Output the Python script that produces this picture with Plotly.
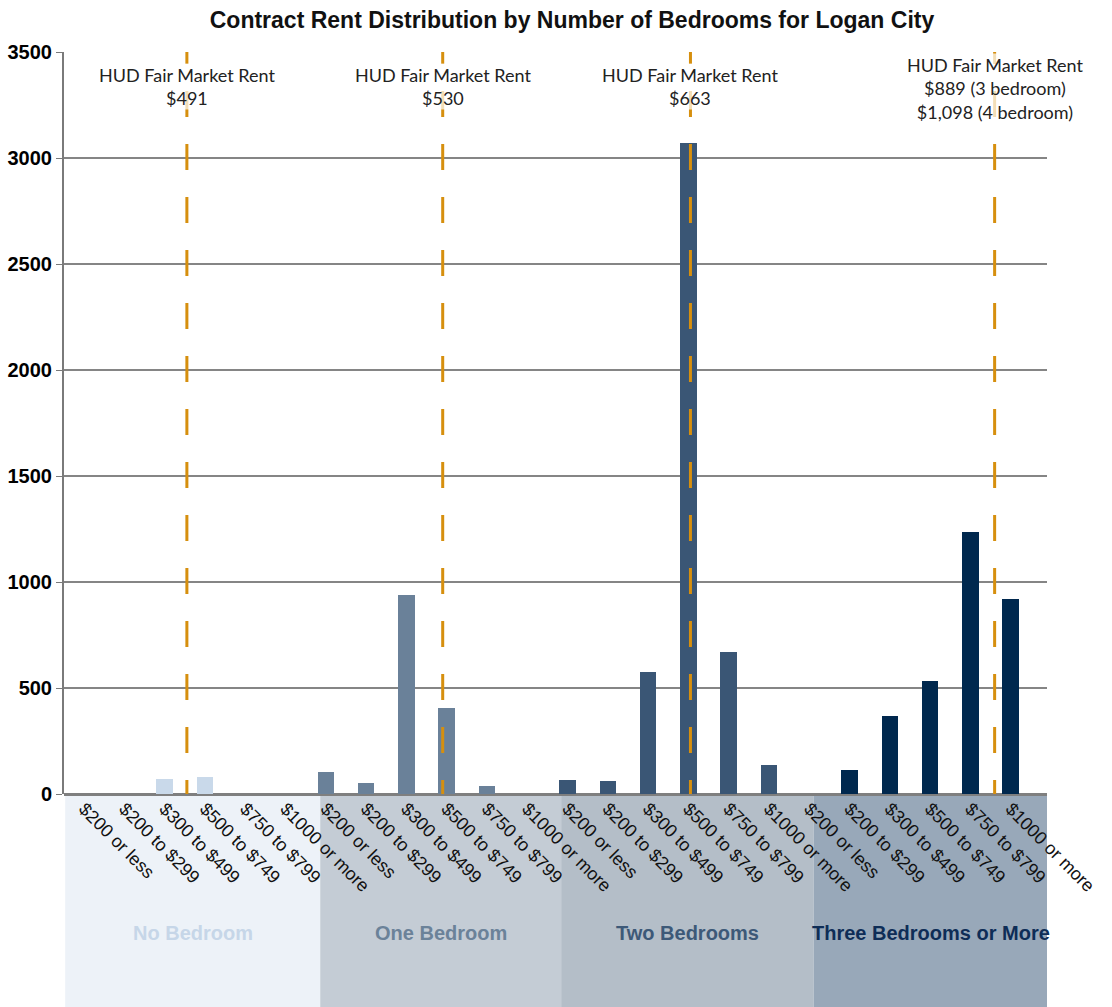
import plotly.graph_objects as go

# Rent ranges shown under every bedroom group
rent_ranges = ["$200 or less", "$200 to $299", "$300 to $499",
               "$500 to $749", "$750 to $799", "$1000 or more"]

groups = ["No Bedroom", "One Bedroom", "Two Bedrooms", "Three Bedrooms or More"]

# Renter households per rent range
no_bedroom = [0, 0, 70, 81, 0, 0]
one_bedroom = [102, 50, 938, 405, 37, 0]
two_bedrooms = [67, 61, 575, 3070, 668, 138]
three_bedrooms = [0, 113, 368, 535, 1235, 918]

# HUD fair market rent reference lines (category-axis position) and their notes
fmr_line_pos = [2.55, 8.9, 15.05, 22.6]
fmr_notes = [
    "HUD Fair Market Rent<br>$491",
    "HUD Fair Market Rent<br>$530",
    "HUD Fair Market Rent<br>$663",
    "HUD Fair Market Rent<br>$889 (3 bedroom)<br>$1,098 (4 bedroom)",
]

# Group band extents along the category axis
band_edges = [-0.47, 5.86, 11.84, 18.11, 23.92]

bar_colors = ["#C9D9EA", "#6A8199", "#3A5675", "#00284E"]
band_colors = ["#EDF2F8", "#C4CCD5", "#B4BEC8", "#98A8B9"]
label_colors = ["#C6D6E8", "#6B8299", "#3D5978", "#0E2D57"]

series = [no_bedroom, one_bedroom, two_bedrooms, three_bedrooms]
n = len(rent_ranges)

fig = go.Figure()
for g, values in enumerate(series):
    xs = [g * n + i for i in range(n)]
    fig.add_trace(go.Bar(
        x=xs, y=values, width=0.41, name=groups[g],
        marker=dict(color=bar_colors[g], line=dict(width=0)),
        showlegend=False,
    ))

tickvals = list(range(n * len(groups)))
ticktext = rent_ranges * len(groups)

# Group bands below the axis
for g in range(len(groups)):
    fig.add_shape(type="rect", xref="x", yref="paper",
                  x0=band_edges[g], x1=band_edges[g + 1], y0=0, y1=-0.29,
                  fillcolor=band_colors[g], line=dict(width=0), layer="below")
    fig.add_annotation(xref="x", yref="paper",
                       x=(band_edges[g] + band_edges[g + 1]) / 2, y=-0.187,
                       yanchor="middle",
                       text="<b>" + groups[g] + "</b>", showarrow=False,
                       font=dict(family="Liberation Sans, Arial", size=20,
                                 color=label_colors[g]))

# Fair market rent dashed lines and labels
for x, note in zip(fmr_line_pos, fmr_notes):
    fig.add_shape(type="line", xref="x", yref="y", x0=x, x1=x, y0=3566, y1=0,
                  line=dict(color="#D68F0E", width=3, dash="26px,27px"),
                  layer="above")
    top = 0.985 if note.count("<br>") == 1 else 0.998
    fig.add_annotation(xref="x", yref="paper", x=x, y=top, yanchor="top",
                       text=note, showarrow=False, align="center",
                       bgcolor="rgba(255,255,255,0.7)", borderpad=0,
                       font=dict(family="Lato", size=18, color="#222222"))

fig.update_layout(
    width=1112, height=1007,
    margin=dict(l=64, r=65, t=52, b=213),
    paper_bgcolor="white", plot_bgcolor="white",
    bargap=0,
    title=dict(text="<b>Contract Rent Distribution by Number of Bedrooms for Logan City</b>",
               x=572 / 1112, xanchor="center", y=1 - 20 / 1007, yanchor="middle",
               font=dict(family="Liberation Sans, Arial", size=23, color="#111111")),
    xaxis=dict(range=[-0.5, 23.9], tickvals=tickvals, ticktext=ticktext,
               tickangle=45, showgrid=False, zeroline=False, showline=False,
               automargin=False,
               ticks="", tickfont=dict(family="Liberation Sans, Arial", size=18,
                                       color="#111111")),
    yaxis=dict(range=[0, 3500], dtick=500, showgrid=True, gridcolor="#858585",
               gridwidth=1.5, zeroline=True, zerolinecolor="#7F7F7F", zerolinewidth=3,
               showline=True, linecolor="#7A7A7A", linewidth=2, automargin=False,
               ticks="outside", ticklen=6, tickcolor="#7A7A7A",
               tickfont=dict(family="Liberation Sans, Arial", size=20, color="#000000"),
               tickprefix="<b>", ticksuffix="</b>"),
)

fig.write_html("out.html")
